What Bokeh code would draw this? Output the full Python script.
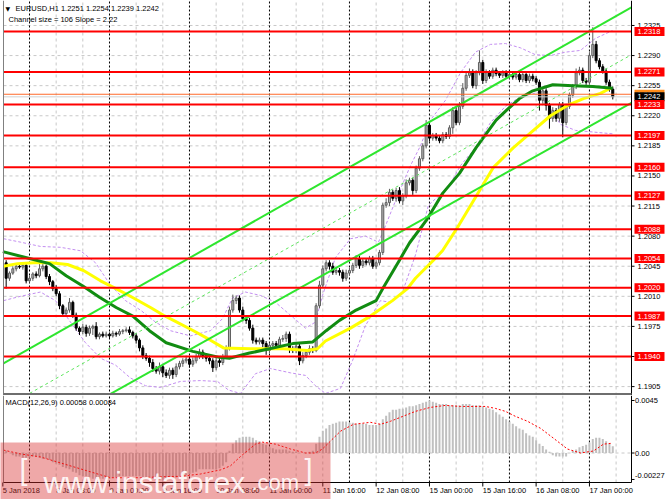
import numpy as np
from bokeh.plotting import figure
from bokeh.layouts import column
from bokeh.models import ColumnDataSource, Range1d
from bokeh.core.properties import value
from bokeh.embed import file_html
from bokeh.resources import INLINE

# EURUSD H1, bar 0 = 8 Jan 2018 00:00 (first visible bar = 5 Jan 17:00)
first_bar = -7
first_open = 1.2049
closes = [
    1.2031, 1.2037, 1.2042, 1.2045, 1.2044, 1.2046, 1.2028, 1.2031, 1.2036, 1.2034,
    1.2042, 1.2045, 1.2033, 1.2027, 1.2019, 1.2013, 1.1999, 1.1990, 1.1994, 1.2003,
    1.1988, 1.1973, 1.1969, 1.1974, 1.1967, 1.1973, 1.1975, 1.1963, 1.1966, 1.1964,
    1.1966, 1.1964, 1.1967, 1.1966, 1.1969, 1.1970, 1.1971, 1.1968, 1.1964, 1.1959,
    1.1950, 1.1941, 1.1938, 1.1933, 1.1926, 1.1923, 1.1928, 1.1921, 1.1918, 1.1924,
    1.1919, 1.1928, 1.1932, 1.1935, 1.1937, 1.1931, 1.1935, 1.1940, 1.1945, 1.1941,
    1.1938, 1.1935, 1.1927, 1.1935, 1.1933, 1.1940, 1.1949, 1.1994, 1.2005, 1.2008,
    1.1994, 1.1984, 1.1982, 1.1973, 1.1959, 1.1957, 1.1959, 1.1955, 1.1947, 1.1953,
    1.1955, 1.1953, 1.1960, 1.1961, 1.1966, 1.1949, 1.1947, 1.1952, 1.1935, 1.1941,
    1.1945, 1.1949, 1.1947, 1.1999, 1.2023, 1.2042, 1.2049, 1.2045, 1.2038, 1.2040,
    1.2038, 1.2031, 1.2037, 1.2040, 1.2046, 1.2054, 1.2046, 1.2051, 1.2049, 1.2054,
    1.2045, 1.2049, 1.2061, 1.2116, 1.2119, 1.2131, 1.2124, 1.2133, 1.2121, 1.2127,
    1.2142, 1.2145, 1.2133, 1.2159, 1.2170, 1.2185, 1.2209, 1.2194, 1.2197, 1.2194,
    1.2191, 1.2198, 1.2196, 1.2206, 1.2226, 1.2212, 1.2231, 1.2252, 1.2267, 1.2270,
    1.2255, 1.2270, 1.2282, 1.2261, 1.2270, 1.2266, 1.2273, 1.2269, 1.2267, 1.2270,
    1.2266, 1.2268, 1.2265, 1.2268, 1.2262, 1.2268, 1.2261, 1.2266, 1.2263, 1.2259,
    1.2238, 1.2249, 1.2232, 1.2217, 1.2226, 1.2217, 1.2233, 1.2212, 1.2231, 1.2244,
    1.2254, 1.2270, 1.2273, 1.2261, 1.2259, 1.2290, 1.2303, 1.2284, 1.2277, 1.2272,
    1.2259, 1.2251, 1.2242,
]
# wick lengths above / below the body, in pips
up_wick_pips = [
    3, 2, 3, 2, 3, 2, 2, 3, 2, 3,
    6, 3, 2, 3, 2, 4, 3, 2, 3, 5,
    2, 3, 2, 4, 3, 3, 2, 5, 2, 3,
    3, 2, 3, 2, 3, 2, 3, 4, 2, 3,
    2, 3, 3, 3, 4, 3, 5, 3, 4, 3,
    3, 4, 3, 3, 4, 3, 4, 3, 4, 3,
    3, 2, 3, 4, 3, 3, 4, 4, 7, 3,
    3, 4, 3, 3, 4, 3, 3, 3, 3, 3,
    3, 3, 3, 4, 3, 3, 3, 3, 3, 4,
    3, 4, 3, 3, 5, 4, 3, 3, 4, 3,
    3, 3, 4, 3, 3, 4, 3, 3, 3, 3,
    3, 3, 3, 3, 5, 4, 3, 3, 4, 3,
    4, 3, 3, 3, 3, 3, 6, 4, 3, 3,
    3, 3, 3, 3, 4, 4, 5, 6, 4, 5,
    4, 3, 14, 3, 4, 3, 3, 3, 3, 3,
    3, 3, 3, 3, 3, 3, 3, 3, 3, 3,
    3, 3, 3, 3, 4, 3, 3, 3, 3, 3,
    3, 5, 4, 3, 3, 4, 20, 4, 3, 3,
    3, 3, 3,
]
dn_wick_pips = [
    12, 3, 2, 3, 2, 3, 3, 2, 3, 3,
    2, 3, 3, 4, 3, 3, 4, 3, 4, 3,
    3, 3, 4, 3, 4, 3, 8, 3, 3, 2,
    2, 3, 2, 3, 2, 3, 2, 3, 3, 4,
    4, 4, 3, 5, 4, 3, 4, 5, 3, 4,
    5, 3, 3, 4, 3, 4, 3, 3, 3, 4,
    4, 4, 5, 3, 5, 3, 3, 2, 3, 4,
    3, 3, 4, 3, 4, 3, 3, 4, 5, 3,
    3, 4, 3, 3, 4, 5, 3, 3, 5, 3,
    3, 3, 3, 2, 3, 3, 3, 4, 3, 3,
    4, 4, 3, 3, 3, 3, 4, 3, 3, 3,
    3, 3, 3, 3, 3, 4, 3, 4, 3, 5,
    3, 3, 5, 3, 3, 3, 3, 4, 3, 3,
    3, 3, 3, 3, 7, 3, 3, 3, 3, 3,
    3, 4, 3, 4, 3, 3, 3, 3, 3, 3,
    3, 3, 3, 3, 3, 3, 3, 3, 3, 3,
    12, 4, 6, 12, 4, 4, 4, 17, 3, 3,
    3, 3, 3, 3, 3, 3, 3, 3, 3, 3,
    3, 3, 3,
]

# moving averages (dark green, yellow) read at bar positions
green_bar = [-8, 0, 6, 11, 16, 21, 26, 31, 36, 41, 49, 57, 60, 66, 72, 79, 85, 89, 93, 98,
             104, 106, 111, 114, 119, 124, 129, 134, 140, 143, 147, 151, 157, 163, 169, 175]
green_ma = [1.2062, 1.2054, 1.2048, 1.2034, 1.2022, 1.2009, 1.1997, 1.1987, 1.1970, 1.1956,
            1.1946, 1.1939, 1.1938, 1.1944, 1.1949, 1.1955, 1.1957, 1.1970, 1.1982, 1.1994,
            1.2005, 1.2019, 1.2052, 1.2072, 1.2098, 1.2130, 1.2153, 1.2183, 1.2215, 1.2226,
            1.2240, 1.2249, 1.2256, 1.2255, 1.2254, 1.2252]
yellow_bar = [-7.8, -3.6, 1.2, 6.3, 11.4, 16.2, 21.3, 26.4, 31.2, 36.3, 40.2, 43.2, 49.2,
              54.3, 58.2, 66.3, 76.2, 83.4, 86.4, 88.8, 96.3, 102.3, 108.9, 113.4, 115.8,
              121.2, 123.9, 128.4, 134.1, 139.2, 145.2, 151.2, 156.3, 161.4, 166.2, 171.3, 174.3]
yellow_ma = [1.2045, 1.2048, 1.2049, 1.2049, 1.2047, 1.2040, 1.2028, 1.2018, 1.2008, 1.1997,
             1.1988, 1.1982, 1.1970, 1.1959, 1.1950, 1.1949, 1.1949, 1.1947, 1.1949, 1.1958,
             1.1973, 1.1987, 1.2005, 1.2019, 1.2031, 1.2052, 1.2063, 1.2090, 1.2127, 1.2160,
             1.2183, 1.2203, 1.2220, 1.2232, 1.2240, 1.2246, 1.2252]

# violet bands
band_up_bar = [-7.8, -2.7, 3.3, 9.3, 15.3, 19.8, 24.3, 28.8, 33.3, 37.8, 42.3, 48.3, 54.3,
               57.9, 60.9, 64.8, 69.3, 73.8, 78.3, 82.8, 85.8, 87.9, 91.8, 96.3, 100.8, 104.7,
               106.8, 109.8, 114.3, 117.3, 120.3, 124.8, 129.3, 133.8, 138.3, 142.8, 147.3,
               151.8, 156.3, 160.8, 165.3, 169.8, 174.9]
band_up = [1.2077, 1.2073, 1.2068, 1.2067, 1.2063, 1.2049, 1.2023, 1.2005, 1.1994, 1.1980,
           1.1970, 1.1964, 1.1970, 1.1984, 1.2008, 1.2015, 1.2011, 1.2003, 1.1988, 1.1973,
           1.1980, 1.2011, 1.2055, 1.2077, 1.2080, 1.2073, 1.2092, 1.2121, 1.2162, 1.2185,
           1.2215, 1.2238, 1.2270, 1.2294, 1.2303, 1.2304, 1.2299, 1.2291, 1.2290, 1.2294,
           1.2296, 1.2310, 1.2319]
band_dn_bar = [-7.8, -2.7, 3.3, 7.8, 12.3, 16.8, 21.3, 25.8, 30.3, 34.8, 39.3, 45.3, 51.3,
               56.4, 59.7, 63.3, 67.8, 72.3, 78.3, 82.8, 85.8, 88.8, 93.3, 96.9, 100.8, 105.3,
               108.3, 111.9, 115.8, 119.7, 125.7, 129.3, 133.8, 138.3, 142.8, 147.3, 152.4,
               155.7, 159.3, 163.8, 174.9]
band_dn = [1.2005, 1.2010, 1.2015, 1.2005, 1.1980, 1.1956, 1.1938, 1.1930, 1.1915, 1.1906,
           1.1904, 1.1911, 1.1912, 1.1911, 1.1901, 1.1897, 1.1920, 1.1926, 1.1921, 1.1918,
           1.1906, 1.1897, 1.1903, 1.1935, 1.1976, 1.2005, 1.2003, 1.2015, 1.2058, 1.2116,
           1.2137, 1.2162, 1.2183, 1.2212, 1.2231, 1.2242, 1.2247, 1.2232, 1.2210, 1.2203,
           1.2199]

# regression channel
channel_bar = [-7.8, 180.6]
channel_upper = [1.1932, 1.2346]
channel_middle = [1.1880, 1.2291]
channel_lower = [1.1827, 1.2235]

levels = [1.2318, 1.2271, 1.2233, 1.2197, 1.2160, 1.2127, 1.2088, 1.2054, 1.2020, 1.1987, 1.1940]
price_ticks = [1.2325, 1.2290, 1.2255, 1.2220, 1.2185, 1.2150, 1.2115, 1.2080, 1.2045,
               1.2010, 1.1975, 1.1940, 1.1905]
bid, ask = 1.2242, 1.2245

# MACD(12,26,9) main histogram, x 1e-3
macd_main_e3 = [
    0.2, 0.0, -0.2, -0.3, -0.3, -0.4, -0.4, -0.4, -0.3, -0.3,
    -0.4, -0.5, -0.5, -0.6, -0.8, -0.9, -1.0, -1.2, -1.3, -1.4,
    -1.6, -1.7, -1.9, -2.0, -2.0, -2.1, -2.2, -2.2, -2.2, -2.2,
    -2.2, -2.2, -2.1, -2.1, -2.0, -2.0, -2.0, -2.0, -2.0, -2.0,
    -2.0, -2.1, -2.1, -2.2, -2.2, -2.3, -2.3, -2.3, -2.3, -2.2,
    -2.2, -2.1, -2.0, -2.0, -1.9, -1.8, -1.7, -1.6, -1.4, -1.4,
    -1.4, -1.4, -1.4, -1.4, -1.3, -1.1, -0.8, 0.2, 0.8, 1.1,
    1.3, 1.4, 1.4, 1.4, 1.3, 1.1, 1.0, 0.8, 0.7, 0.5,
    0.4, 0.3, 0.3, 0.3, 0.3, 0.2, 0.1, 0.1, 0.0, 0.0,
    0.0, 0.1, 0.2, 0.8, 1.4, 1.9, 2.1, 2.4, 2.5, 2.6,
    2.7, 2.7, 2.7, 2.6, 2.6, 2.5, 2.5, 2.5, 2.5, 2.4,
    2.4, 2.4, 2.5, 2.9, 3.2, 3.5, 3.7, 3.7, 3.8, 3.8,
    3.9, 4.0, 4.0, 4.1, 4.2, 4.3, 4.4, 4.5, 4.4, 4.3,
    4.2, 4.2, 4.2, 4.1, 4.1, 4.1, 4.1, 4.2, 4.2, 4.2,
    4.1, 4.1, 4.1, 4.0, 3.9, 3.8, 3.7, 3.5, 3.3, 3.1,
    2.9, 2.7, 2.5, 2.3, 2.1, 2.0, 1.7, 1.5, 1.4, 1.1,
    0.8, 0.6, 0.3, 0.1, -0.2, -0.3, -0.3, -0.3, -0.3, 0.0,
    0.2, 0.3, 0.5, 0.6, 0.7, 0.9, 1.2, 1.3, 1.3, 1.2,
    1.0, 0.8, 0.58,
]
signal_bar = [-7.8, -2.7, 3.3, 9.3, 15.3, 21.3, 24.3, 33.3, 39.3, 45.3, 51.3, 57.3, 60.3,
              63.3, 67.8, 69.9, 73.8, 78.3, 82.8, 85.8, 87.9, 90.3, 93.3, 97.2, 102.3, 105.3,
              108.3, 111.3, 115.8, 120.3, 124.8, 129.3, 136.8, 139.8, 142.8, 145.8, 149.4,
              153.3, 157.2, 161.4, 165.3, 169.2, 172.2, 174.9]
signal_e3 = [0.25, -0.08, -0.34, -0.85, -1.36, -1.87, -2.12, -2.12, -2.04, -2.0, -1.8, -1.45,
             -1.1, -0.3, 0.76, 0.93, 0.76, 0.34, 0.0, 0.0, 0.34, 1.02, 1.87, 2.46, 2.63, 2.46,
             2.72, 3.06, 3.57, 3.91, 4.08, 3.99, 3.99, 3.82, 3.57, 3.14, 2.72, 2.12, 1.27,
             0.34, 0.0, 0.17, 0.76, 0.84]
macd_ticks = [0.0045, 0.0, -0.00227]
macd_tick_labels = ["0.0045", "0.00", "-0.00227"]

time_bars = [-8, 8, 24, 40, 56, 72, 88, 104, 120, 136, 152, 168]
time_labels = ["5 Jan 2018", "8 Jan 08:00", "9 Jan 00:00", "9 Jan 16:00", "10 Jan 08:00",
               "11 Jan 00:00", "11 Jan 16:00", "12 Jan 08:00", "15 Jan 00:00", "15 Jan 16:00",
               "16 Jan 08:00", "17 Jan 00:00"]
day_bars = [0, 24, 48, 72, 96, 120, 144, 168]
grid_bars = [b for b in range(8, 177, 8) if b % 24]


# layout helpers: reference-pixel -> data coordinates
def bx(px):
    return (px - 29) / 3.333


def py(px):
    return 1.2318 - (px - 31) / 8598


def my(px):
    return (452.5 - px) / 11667


FONT = value("Liberation Sans")
TXT = dict(text_font=FONT, text_font_size="7.5px", text_baseline="middle", text_align="left")
L, R = bx(3), bx(631)

xr = Range1d(bx(0), bx(665))
common = dict(width=665, toolbar_location=None, output_backend="svg", x_axis_location=None,
              y_axis_location=None, min_border=0, outline_line_color=None,
              background_fill_color="white", border_fill_color="white")

# ---------------- price panel ----------------
p = figure(height=395, x_range=xr, y_range=Range1d(py(395), py(0)), **common)
p.grid.visible = False

p.segment(x0=L, x1=R, y0=price_ticks, y1=price_ticks, line_color="#c8c8c8", line_dash="3 3")
p.segment(x0=grid_bars, x1=grid_bars, y0=py(395), y1=py(0), line_color="#c8c8c8", line_dash="3 3")
p.segment(x0=day_bars, x1=day_bars, y0=py(395), y1=py(0), line_color="#000000", line_dash="2 2")

p.line(band_up_bar, band_up, line_color="#c38ef0", line_dash="3 2", line_width=1)
p.line(band_dn_bar, band_dn, line_color="#c38ef0", line_dash="3 2", line_width=1)

c = np.array(closes)
o = np.concatenate([[first_open], c[:-1]])
bars = np.arange(first_bar, first_bar + len(c))
bull = c >= o
candles = ColumnDataSource(dict(
    x=bars, top=np.maximum(o, c), bottom=np.minimum(o, c),
    hi=np.maximum(o, c) + np.array(up_wick_pips) * 1e-4,
    lo=np.minimum(o, c) - np.array(dn_wick_pips) * 1e-4,
    fill=np.where(bull, "#b4b4b4", "#000000").tolist(),
    edge=np.where(bull, "#5e5e5e", "#000000").tolist(),
))
p.segment(x0="x", x1="x", y0="lo", y1="hi", line_color="edge", source=candles)
p.vbar(x="x", width=0.6, top="top", bottom="bottom", fill_color="fill", line_color="edge",
       source=candles)

p.line(yellow_bar, yellow_ma, line_color="#ffff00", line_width=3)
p.line(green_bar, green_ma, line_color="#118c11", line_width=3)

p.line(channel_bar, channel_upper, line_color="#2ee62e", line_width=2)
p.line(channel_bar, channel_lower, line_color="#2ee62e", line_width=2)
p.line(channel_bar, channel_middle, line_color="#5ee65e", line_width=1, line_dash="3 3")

p.segment(x0=L, x1=R, y0=[ask], y1=[ask], line_color="#ff6a2a", line_width=1)
p.segment(x0=L, x1=R, y0=[bid], y1=[bid], line_color="#d0d0d0", line_width=1)
p.segment(x0=L, x1=R, y0=levels, y1=levels, line_color="#ff0000", line_width=2)

# frame
p.segment(x0=[L, R], x1=[L, R], y0=py(395), y1=py(0), line_color=["#808080", "#000000"])
p.segment(x0=L, x1=R, y0=py(393.5), y1=py(393.5), line_color="#6e6e6e", line_width=2)

# right price scale
p.segment(x0=R, x1=bx(634), y0=price_ticks, y1=price_ticks, line_color="#000000")
p.text(x=bx(637), y=price_ticks, text=[f"{t:.4f}" for t in price_ticks], text_color="#000000", **TXT)
half = 4.5 / 8598
p.quad(left=bx(634), right=bx(664), bottom=[ask - half], top=[ask + half],
       fill_color="#ff8c1a", line_color=None)
p.text(x=bx(637), y=[ask], text=[f"{ask:.4f}"], text_color="white", **TXT)
p.quad(left=bx(634), right=bx(664), bottom=[bid - half], top=[bid + half],
       fill_color="#000000", line_color=None)
p.text(x=bx(637), y=[bid], text=[f"{bid:.4f}"], text_color="white", **TXT)
p.quad(left=bx(634), right=bx(664), bottom=[v - half for v in levels],
       top=[v + half for v in levels], fill_color="#ff0000", line_color=None)
p.text(x=bx(637), y=levels, text=[f"{v:.4f}" for v in levels], text_color="white", **TXT)

# header
p.text(x=bx(5), y=py(8), text=["▼"], text_font=value("DejaVu Sans"), text_font_size="6px",
       text_baseline="middle", text_align="left", text_color="#000000")
p.text(x=bx(15), y=py(8), text=["EURUSD,H1  1.2251 1.2254 1.2239 1.2242"],
       text_color="#000000", **TXT)
p.text(x=bx(8), y=py(19), text=["Channel size = 106 Slope = 2.22"], text_color="#000000", **TXT)

# ---------------- MACD panel ----------------
m = figure(height=104, x_range=xr, y_range=Range1d(my(499), my(395)), **common)
m.grid.visible = False

m.segment(x0=grid_bars, x1=grid_bars, y0=my(482), y1=my(395), line_color="#c8c8c8", line_dash="3 3")
m.segment(x0=day_bars, x1=day_bars, y0=my(482), y1=my(395), line_color="#000000", line_dash="2 2")
m.segment(x0=L, x1=R, y0=[0.0], y1=[0.0], line_color="#c8c8c8", line_dash="3 3")

m.vbar(x=bars, top=np.array(macd_main_e3) * 1e-3, bottom=0, width=0.6,
       fill_color="#c0c0c0", line_color=None)
m.line(signal_bar, np.array(signal_e3) * 1e-3, line_color="#ff0000", line_dash="2 2", line_width=1)

m.segment(x0=[L, R], x1=[L, R], y0=my(482), y1=my(395), line_color=["#808080", "#000000"])
m.segment(x0=L, x1=R, y0=my(482), y1=my(482), line_color="#000000")

m.text(x=bx(5), y=my(402), text=["MACD(12,26,9) 0.00058 0.00084"], text_color="#000000", **TXT)

m.segment(x0=R, x1=bx(634), y0=macd_ticks, y1=macd_ticks, line_color="#000000")
m.text(x=bx(634.5), y=[my(400), my(452.5), my(475)], text=macd_tick_labels,
       text_color="#000000", **TXT)

m.segment(x0=time_bars, x1=time_bars, y0=my(482), y1=my(486), line_color="#000000")
m.text(x=time_bars, y=my(490), text=time_labels, text_color="#000000", **TXT)

# watermark
m.quad(left=bx(-10), right=bx(330), bottom=my(510), top=my(442),
       fill_color="#d83030", fill_alpha=0.42, line_color=None)
m.text(x=[bx(19), bx(304)], y=my(469), text=["[", "]"], text_font=FONT, text_font_size="29px",
       text_color="white", text_alpha=0.9, text_baseline="middle", text_align="left")
m.text(x=bx(43), y=my(482), text=["www.instaforex"], text_font=FONT, text_font_size="30px",
       text_color="white", text_alpha=0.9, text_baseline="alphabetic", text_align="left")
m.text(x=bx(251), y=my(482), text=[".com"], text_font=FONT, text_font_size="22px",
       text_color="white", text_alpha=0.9, text_baseline="alphabetic", text_align="left")

layout = column(p, m)
open("out.html", "w").write(file_html(layout, INLINE))
